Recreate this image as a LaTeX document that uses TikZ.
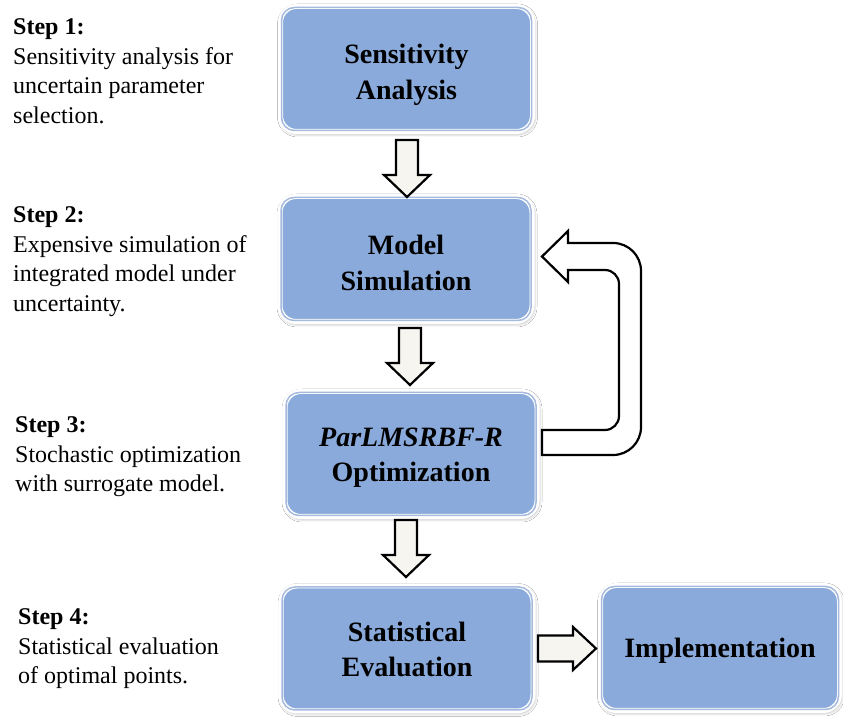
\documentclass[tikz,border=0pt]{standalone}
\usepackage{fontspec}
\setmainfont{Liberation Serif}
\usetikzlibrary{shadows.blur}
\definecolor{boxblue}{RGB}{137,170,219}
\definecolor{boxedge}{RGB}{105,140,198}
\definecolor{arrfill}{RGB}{246,245,240}
\tikzset{
  stepbox/.style={rounded corners=16pt, fill=boxblue, draw=white, line width=5pt,
    minimum width=252pt, minimum height=125pt,
    blur shadow={shadow xshift=1pt, shadow yshift=-1.5pt, shadow blur radius=4pt, shadow opacity=45}},
  boxtext/.style={align=center, inner sep=0pt, font=\fontsize{28}{35.5}\selectfont\bfseries},
  inneredge/.style={draw=boxedge, draw opacity=0.6, line width=1.5pt, rounded corners=13pt},
  steptext/.style={anchor=north west, align=left, inner sep=0pt,
    font=\fontsize{24}{29.5}\selectfont},
  blockarrow/.style={draw=black, line width=2.2pt, fill=arrfill, line join=miter},
  downarr/.pic={\draw[blockarrow] (-11,0) -- (11,0) -- (11,-35) -- (23,-35) -- (0,-57) -- (-23,-35) -- (-11,-35) -- cycle;}
}
\begin{document}
\begin{tikzpicture}[x=1pt,y=1pt]
\useasboundingbox[fill=white] (0,0) rectangle (843,717);

% feedback arrow
\draw[blockarrow, fill=white] (542,262) -- (613,262) .. controls (628.5,262) and (641,274.5) .. (641,290)
  -- (641,446) .. controls (641,461.5) and (628.5,474) .. (613,474) -- (568,474) -- (568,486)
  -- (542,460.5) -- (568,435) -- (568,447) -- (605,447) .. controls (612.7,447) and (619,440.7) .. (619,433)
  -- (619,301) .. controls (619,293.3) and (612.7,287) .. (605,287) -- (542,287) -- cycle;

% boxes
\node[stepbox] (b1) at (406.5,648) {};
\node[stepbox] (b2) at (406,458) {};
\node[stepbox] (b3) at (411,263) {};
\node[stepbox] (b4) at (407,68.5) {};
\node[stepbox, minimum width=239pt] (b5) at (720,69) {};

\foreach \b in {b1,b2,b3,b4,b5}{
  \draw[inneredge] ([shift={(3.5,3.5)}]\b.south west) rectangle ([shift={(-3.5,-3.5)}]\b.north east);
}

\node[boxtext] (t1) at ([yshift=-6pt]b1.center) {Sensitivity\\Analysis};
\node[boxtext] (t2) at ([yshift=-4pt]b2.center) {Model\\Simulation};
\node[boxtext] (t3) at ([yshift=-3.5pt]b3.center) {\textit{ParLMSRBF-R}\\Optimization};
\node[boxtext] (t4) at ([yshift=-1pt]b4.center) {Statistical\\Evaluation};
\node[boxtext] (t5) at ([yshift=-3pt]b5.center) {Implementation};

% down arrows
\coordinate (a1) at (407,577);
\coordinate (a2) at (410,389);
\coordinate (a3) at (406,197);
\pic at (a1) {downarr};
\pic at (a2) {downarr};
\pic at (a3) {downarr};

% right arrow
\draw[blockarrow] (538,81.5) -- (573,81.5) -- (573,90) -- (596,68.5) -- (573,47) -- (573,55.5) -- (538,55.5) -- cycle;

% step texts
\node[steptext] (s1) at (13,698.5) {\textbf{Step 1:}\\Sensitivity analysis for\\uncertain parameter\\selection.};
\node[steptext] (s2) at (13,510.5) {\textbf{Step 2:}\\Expensive simulation of\\integrated model under\\uncertainty.};
\node[steptext] (s3) at (15,300.5) {\textbf{Step 3:}\\Stochastic optimization\\with surrogate model.};
\node[steptext] (s4) at (18,108.5) {\textbf{Step 4:}\\Statistical evaluation\\of optimal points.};
\end{tikzpicture}
\end{document}
